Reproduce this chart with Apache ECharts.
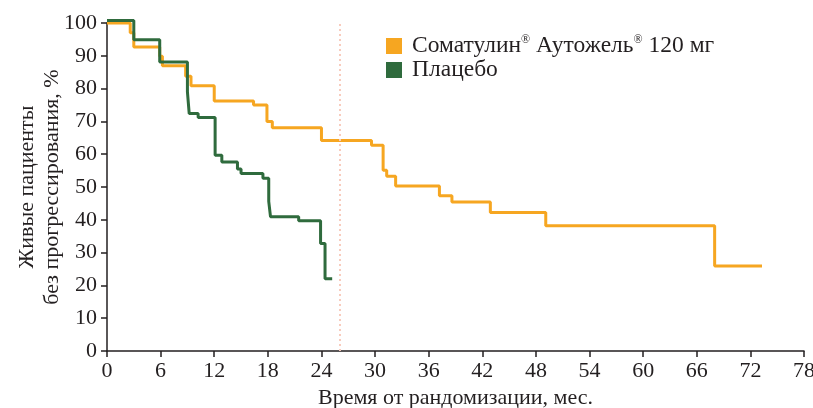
<!DOCTYPE html>
<html>
<head>
<meta charset="utf-8">
<script src="https://cdn.jsdelivr.net/npm/echarts@6/dist/echarts.min.js"></script>
<style>html,body{margin:0;padding:0;background:#fff}#c{width:813px;height:408px}</style>
</head>
<body>
<div id="c"></div>
<script>
var xTicks = [0, 6, 12, 18, 24, 30, 36, 42, 48, 54, 60, 66, 72, 78];
var yTicks = [0, 10, 20, 30, 40, 50, 60, 70, 80, 90, 100];
var somatulinName = 'Соматулин® Аутожель® 120 мг';
var placeboName = 'Плацебо';
var somatulinData = [
  [0, 100], [2.6, 97], [3.0, 92.7], [5.9, 89.9], [6.2, 87], [8.8, 83.8], [9.4, 80.9],
  [12.0, 76.2], [16.4, 75], [17.9, 70], [18.5, 68.1], [24.0, 64.2], [29.6, 62.7],
  [30.9, 55.1], [31.3, 53.3], [32.3, 50.3], [37.2, 47.3], [38.6, 45.4], [42.9, 42.2],
  [49.1, 38.2], [68.0, 25.9], [73.3, 25.9]
];
var placeboData = [
  [0, 100.8], [3.0, 94.9], [5.9, 88.1], [9.0, 79], [9.2, 72.4], [10.2, 71.2],
  [12.1, 59.7], [12.85, 57.6], [14.6, 55.5], [15.0, 54.1], [17.45, 52.7], [18.1, 45.6],
  [18.3, 40.9], [21.45, 39.7], [23.9, 32.8], [24.4, 22.0], [25.2, 22.0]
];
var followUpMark = 26;

var FONT = '"Liberation Serif", "DejaVu Serif", serif';
var INK = '#231f20';
var chart = echarts.init(document.getElementById('c'));
chart.setOption({
  animation: false,
  backgroundColor: '#fff',
  textStyle: { fontFamily: FONT },
  grid: { left: 107, right: 9, top: 23, bottom: 57, containLabel: false, outerBoundsMode: 'none' },
  legend: {
    orient: 'vertical', left: 386, top: 34, itemGap: 0, padding: 0,
    itemWidth: 16, itemHeight: 16, icon: 'rect',
    data: [somatulinName, placeboName],
    formatter: function (n) { return n.replace(/®/g, '{s|®}'); },
    textStyle: {
      fontFamily: FONT, fontSize: 23.5, color: INK, padding: [0, 0, 0, 5], lineHeight: 24,
      rich: { s: { fontFamily: FONT, fontSize: 12, color: INK, verticalAlign: 'top', lineHeight: 24, padding: [0, 0, 10, 0] } }
    }
  },
  xAxis: {
    type: 'value', min: 0, max: 78, interval: 6,
    name: 'Время от рандомизации, мес.', nameLocation: 'middle', nameGap: 35,
    nameTextStyle: { fontFamily: FONT, fontSize: 22, color: INK },
    axisLine: { show: true, lineStyle: { color: INK, width: 1.5 } },
    axisTick: { show: true, length: 6, lineStyle: { color: INK, width: 1.5 } },
    axisLabel: { fontFamily: FONT, fontSize: 22, color: INK, margin: 9,
      formatter: function (v) { return xTicks.indexOf(v) >= 0 ? String(v) : ''; } },
    splitLine: { show: false }
  },
  yAxis: {
    type: 'value', min: 0, max: 100, interval: 10,
    name: 'Живые пациенты\nбез прогрессирования, %', nameLocation: 'middle', nameGap: 42,
    nameMoveOverlap: false,
    nameTextStyle: { fontFamily: FONT, fontSize: 22, color: INK, lineHeight: 25 },
    axisLine: { show: true, lineStyle: { color: INK, width: 1.5 } },
    axisTick: { show: true, length: 6, lineStyle: { color: INK, width: 1.5 } },
    axisLabel: { fontFamily: FONT, fontSize: 22, color: INK, margin: 10,
      formatter: function (v) { return yTicks.indexOf(v) >= 0 ? String(v) : ''; } },
    splitLine: { show: false }
  },
  series: [
    {
      name: somatulinName, type: 'line', step: 'end', data: somatulinData,
      showSymbol: false, symbol: 'none', clip: false,
      itemStyle: { color: '#f6a621' },
      lineStyle: { color: '#f6a621', width: 3 },
      markLine: {
        silent: true, symbol: 'none', label: { show: false },
        lineStyle: { color: '#f8cbbd', type: [2, 3], width: 2 },
        data: [{ xAxis: followUpMark }]
      }
    },
    {
      name: placeboName, type: 'line', step: 'end', data: placeboData,
      showSymbol: false, symbol: 'none', clip: false,
      itemStyle: { color: '#2f6b3d' },
      lineStyle: { color: '#2f6b3d', width: 3 }
    }
  ]
});
</script>
</body>
</html>
